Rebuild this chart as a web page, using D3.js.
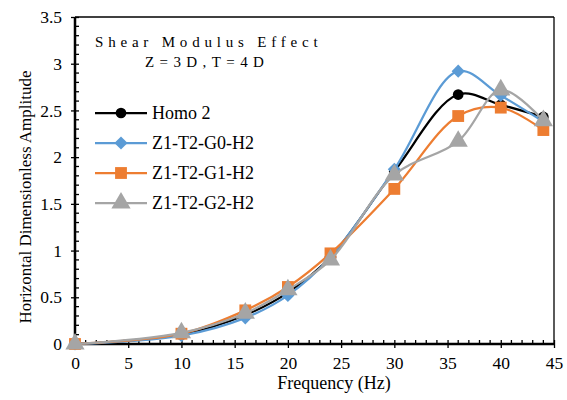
<!DOCTYPE html>
<html><head><meta charset="utf-8">
<script src="https://cdn.jsdelivr.net/npm/d3@7"></script>
<style>body{margin:0;background:#fff}svg{display:block}text{font-family:"Liberation Serif","Times New Roman",serif;fill:#000}</style>
</head><body><svg id="c" width="567" height="400"></svg>
<script>
const freq = [0, 10, 16, 20, 24, 30, 36, 40, 44];
const homo2 = [0, 0.10, 0.31, 0.55, 0.93, 1.85, 2.67, 2.56, 2.43];
const g0 = [0, 0.09, 0.28, 0.52, 0.93, 1.87, 2.92, 2.66, 2.38];
const g1 = [0, 0.11, 0.36, 0.61, 0.97, 1.66, 2.44, 2.53, 2.29];
const g2 = [0, 0.12, 0.33, 0.58, 0.90, 1.81, 2.17, 2.72, 2.39];
const seriesNames = ["Homo 2", "Z1-T2-G0-H2", "Z1-T2-G1-H2", "Z1-T2-G2-H2"];
const xTicks = [0, 5, 10, 15, 20, 25, 30, 35, 40, 45];
const yTicks = [0, 0.5, 1, 1.5, 2, 2.5, 3, 3.5];

const colors = ["#000000", "#5B9BD5", "#ED7D31", "#A5A5A5"];
const markers = [d3.symbolCircle, d3.symbolDiamond2 || d3.symbolDiamond, d3.symbolSquare, d3.symbolTriangle];
const msize = [90, 110, 140, 160];
const series = [homo2, g0, g1, g2];

const svg = d3.select("#c");
const L = 75, R = 554, T = 17, B = 344;
const x = d3.scaleLinear().domain([0, 45]).range([L, R]);
const y = d3.scaleLinear().domain([0, 3.5]).range([B, T]);

// frame top/right
svg.append("line").attr("x1", L).attr("x2", R).attr("y1", T).attr("y2", T).attr("stroke", "#000").attr("stroke-width", 1.3);
svg.append("line").attr("x1", R).attr("x2", R).attr("y1", T).attr("y2", B).attr("stroke", "#000").attr("stroke-width", 1.3);

// minor ticks
const gm = svg.append("g").attr("stroke", "#000").attr("stroke-width", 1.3);
d3.range(1, 45).filter(v => v % 5 !== 0).forEach(v => {
  gm.append("line").attr("x1", x(v)).attr("x2", x(v)).attr("y1", B).attr("y2", B - 4);
});
d3.range(1, 35).filter(v => v % 5 !== 0).forEach(v => {
  gm.append("line").attr("x1", L).attr("x2", L + 4).attr("y1", y(v / 10)).attr("y2", y(v / 10));
});

// axes
const xa = svg.append("g").attr("transform", `translate(0,${B})`)
  .call(d3.axisBottom(x).tickValues(xTicks).tickSize(4).tickPadding(9).tickFormat(d3.format("d")));
const ya = svg.append("g").attr("transform", `translate(${L},0)`)
  .call(d3.axisLeft(y).tickValues(yTicks).tickSize(4).tickPadding(9).tickFormat(d => String(d)));
[xa, ya].forEach(a => {
  a.attr("font-family", null);
  a.select(".domain").attr("stroke-width", 2.5);
  a.selectAll(".tick line").attr("stroke-width", 1.3);
  a.selectAll("text").style("font-family", "'Liberation Serif',serif").attr("font-size", 17.5).attr("fill", "#000");
});
xa.selectAll(".tick").append("line").attr("y1", 0).attr("y2", -4).attr("stroke", "#000").attr("stroke-width", 1.3);
ya.selectAll(".tick").append("line").attr("x1", 0).attr("x2", 4).attr("stroke", "#000").attr("stroke-width", 1.3);
xa.select(".domain").attr("d", `M${L},0H${R}`);
ya.select(".domain").attr("d", `M0,${T}V${B}`);

// lines
const line = d3.line().x((d, i) => x(freq[i])).y(d => y(d)).curve(d3.curveCatmullRom.alpha(0.5));
series.forEach((s, k) => {
  svg.append("path").datum(s).attr("d", line).attr("fill", "none").attr("stroke", colors[k]).attr("stroke-width", 2.25);
  svg.append("g").selectAll("path").data(s).join("path")
    .attr("transform", (d, i) => `translate(${x(freq[i])},${y(d)})`)
    .attr("d", d3.symbol().type(markers[k]).size(msize[k]))
    .attr("fill", colors[k]);
});

// legend
const lg = svg.append("g");
seriesNames.forEach((n, k) => {
  const yy = 113 + k * 30;
  lg.append("line").attr("x1", 95).attr("x2", 147).attr("y1", yy).attr("y2", yy).attr("stroke", colors[k]).attr("stroke-width", 2.25);
  lg.append("path").attr("transform", `translate(121,${yy})`).attr("d", d3.symbol().type(markers[k]).size(msize[k])).attr("fill", colors[k]);
  lg.append("text").attr("x", 152).attr("y", yy + 6).attr("font-size", 18).text(n);
});

// title
svg.append("text").attr("x", 95).attr("y", 47).attr("font-size", 15).attr("letter-spacing", 4.8).text("Shear Modulus Effect");
svg.append("text").attr("x", 145).attr("y", 67).attr("font-size", 15).attr("letter-spacing", 5.4).text("Z=3D,T=4D");

// axis titles
svg.append("text").attr("x", 334).attr("y", 389).attr("text-anchor", "middle").attr("font-size", 18).text("Frequency (Hz)");
svg.append("text").attr("transform", "translate(31,197) rotate(-90)").attr("text-anchor", "middle").attr("font-size", 17).text("Horizontal Dimensionless Amplitude");
</script></body></html>
